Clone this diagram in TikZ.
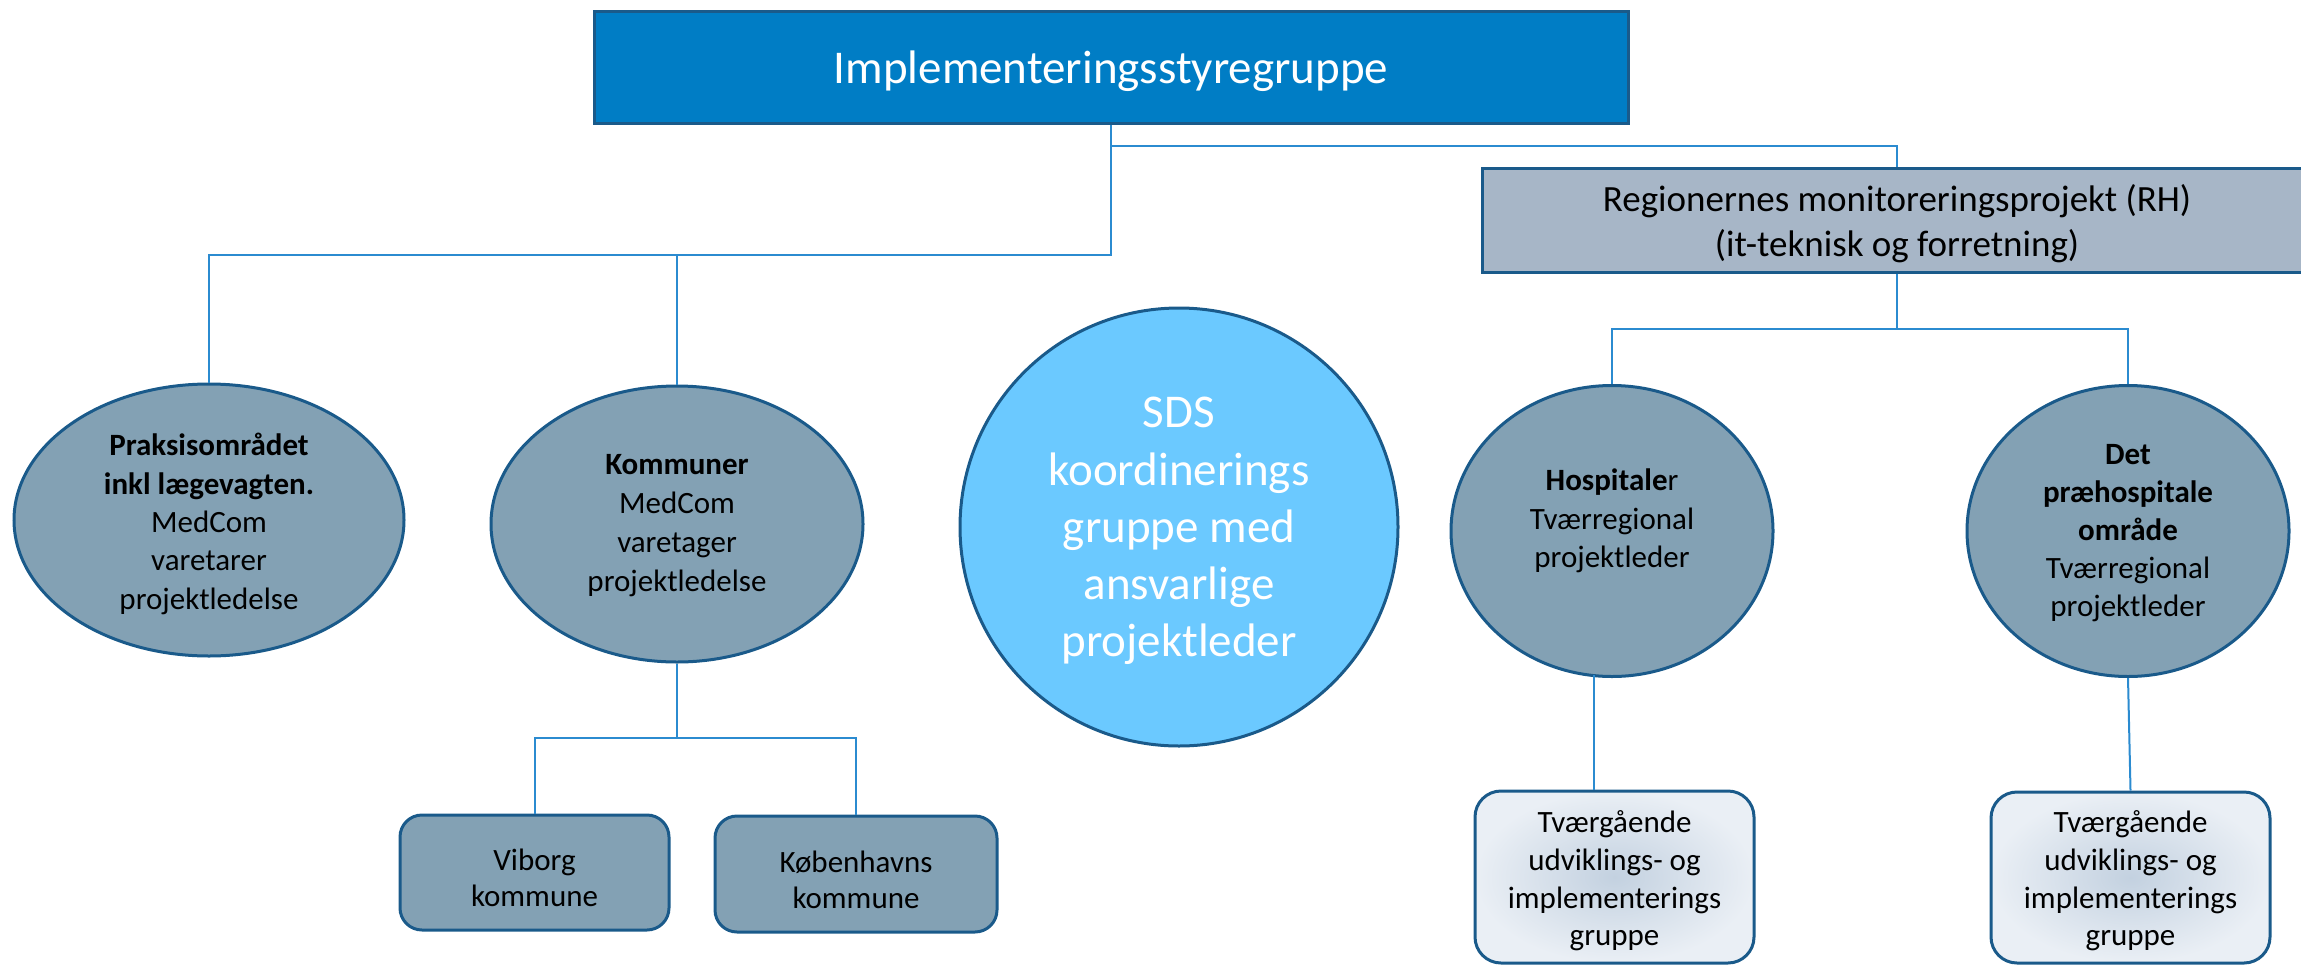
\documentclass[tikz,border=0pt]{standalone}
\usepackage{fontspec}
\setmainfont{Carlito}
\usetikzlibrary{shapes.geometric,calc}
\definecolor{topfill}{HTML}{007DC5}
\definecolor{edge}{HTML}{1A5A8A}
\definecolor{rhfill}{HTML}{A7B6C7}
\definecolor{ellfill}{HTML}{83A1B4}
\definecolor{sdsfill}{HTML}{6BC9FF}
\definecolor{conn}{HTML}{2B8BD0}
\definecolor{gin}{HTML}{C3D1E0}
\definecolor{gout}{HTML}{EAEFF5}
\newcommand\fsz[2]{\fontsize{#1}{#2}\selectfont}
\tikzset{
  boxbase/.style={draw=edge, line width=3pt, inner sep=0pt},
  topbox/.style={boxbase, rectangle, fill=topfill, minimum width=1034pt, minimum height=112pt},
  rhbox/.style={boxbase, rectangle, fill=rhfill, minimum width=830pt, minimum height=104pt},
  ell/.style={boxbase, ellipse, fill=ellfill},
  sdscirc/.style={boxbase, circle, fill=sdsfill, minimum size=438pt},
  kbox/.style={boxbase, rectangle, rounded corners=22pt, fill=ellfill},
  gbox/.style={boxbase, rectangle, rounded corners=26pt, shading=radial, inner color=gin, outer color=gout, minimum width=279pt},
  conline/.style={draw=conn, line width=2pt},
  txt/.style={align=center, inner sep=0pt, text=black},
}
\begin{document}
\begin{tikzpicture}[x=1pt,y=-1pt]
\useasboundingbox (0,0) rectangle (2301,964);
% shapes
\node[topbox] (top) at (1111,67.5) {};
\node[rhbox] (rh) at (1897,220) {};
\node[ell, minimum width=390pt, minimum height=272pt] (prak) at (209,520) {};
\node[ell, minimum width=372pt, minimum height=276pt] (komm) at (677,524) {};
\node[sdscirc] (sds) at (1179,527) {};
\node[ell, minimum width=322pt, minimum height=291pt] (hosp) at (1612,531) {};
\node[ell, minimum width=322pt, minimum height=291pt] (prae) at (2128,531) {};
\node[kbox, minimum width=269pt, minimum height=115pt] (vib) at (534.5,872.5) {};
\node[kbox, minimum width=282pt, minimum height=116pt] (kbh) at (856,874) {};
\node[gbox, minimum height=172pt] (tvg1) at (1614.5,877) {};
\node[gbox, minimum height=171pt] (tvg2) at (2130.5,877.5) {};
% texts
\node[txt, text=white, font=\fsz{47}{57}] (ttop) at (1111,71) {Implementeringsstyregruppe};
\node[txt, font=\fsz{37}{45}] (trh) at (1897,224) {Regionernes monitoreringsprojekt (RH)\\(it-teknisk og forretning)};
\node[txt, font=\fsz{31}{38.3}] (tprak) at (209,524) {\textbf{Praksisområdet}\\\textbf{inkl lægevagten.}\\MedCom\\varetarer\\projektledelse};
\node[txt, font=\fsz{31}{39}] (tkomm) at (677,526) {\textbf{Kommuner}\\MedCom\\varetager\\projektledelse};
\node[txt, text=white, font=\fsz{47}{57.2}] (tsds) at (1179,531) {SDS\\koordinerings\\gruppe med\\ansvarlige\\projektleder};
\node[txt, font=\fsz{31}{38.5}] (thosp) at (1612,521) {\textbf{Hospitale}r\\Tværregional\\projektleder};
\node[txt, font=\fsz{31}{38}] (tprae) at (2128,533) {\textbf{Det}\\\textbf{præhospitale}\\\textbf{område}\\Tværregional\\projektleder};
\node[txt, font=\fsz{31}{36}] (tvib) at (534.5,878) {Viborg\\kommune};
\node[txt, font=\fsz{31}{36}] (tkbh) at (856,880) {Københavns\\kommune};
\node[txt, font=\fsz{31}{37.7}] (ttvg1) at (1614.5,881) {Tværgående\\udviklings- og\\implementerings\\gruppe};
\node[txt, font=\fsz{31}{37.7}] (ttvg2) at (2130.5,881) {Tværgående\\udviklings- og\\implementerings\\gruppe};
% junction coordinates
\coordinate (j0) at (1111,146);
\coordinate (j1) at (1111,255);
\coordinate (j2) at (1897,329);
\coordinate (j3) at (677,738);
\coordinate (h1) at (1594,675);
% connectors
\draw[conline] (top.south) -- (j1) -| (prak.north);
\draw[conline] (j1) -| (komm.north);
\draw[conline] (j0) -| (rh.north);
\draw[conline] (rh.south) -- (j2) -| (hosp.north);
\draw[conline] (j2) -| (prae.north);
\draw[conline] (komm.south) -- (j3) -| (vib.north);
\draw[conline] (j3) -| (kbh.north);
\draw[conline] (h1) -- (h1 |- tvg1.north);
\draw[conline] (prae.south) -- (tvg2.north);
\end{tikzpicture}
\end{document}
